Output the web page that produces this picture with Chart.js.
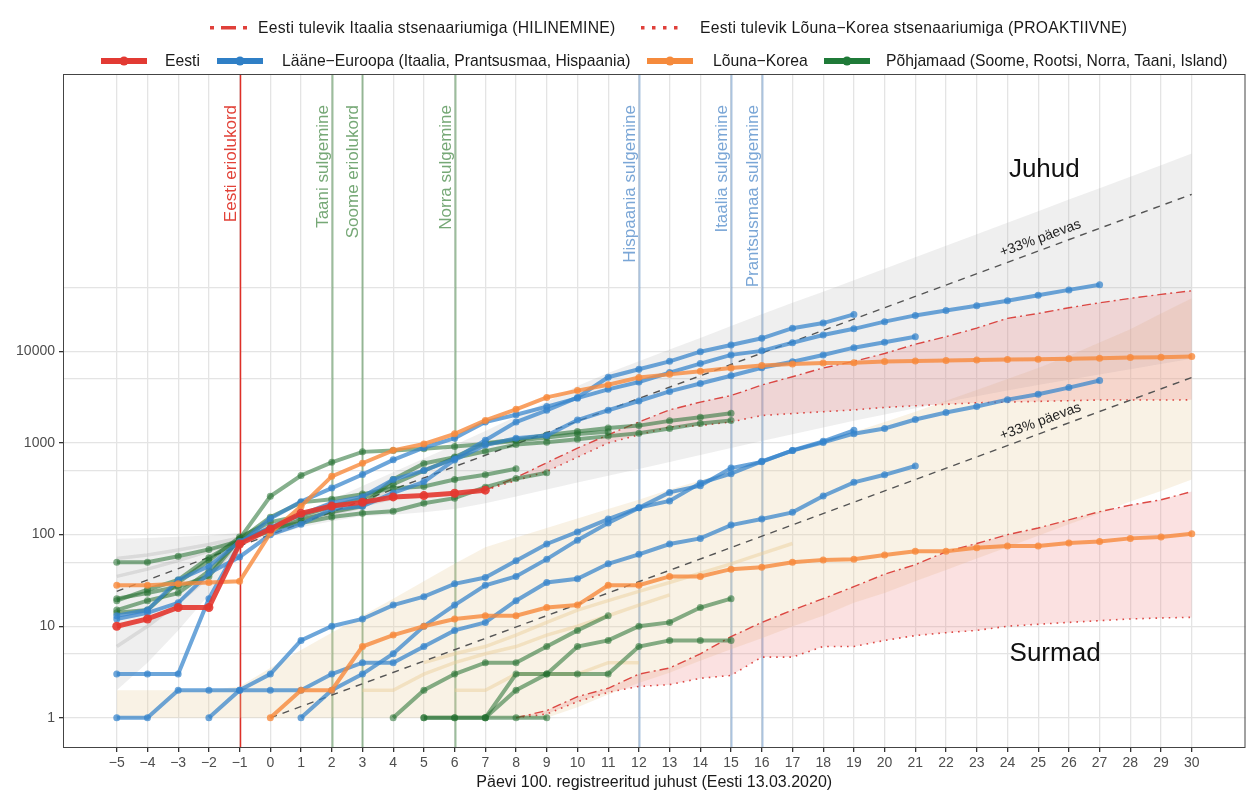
<!DOCTYPE html>
<html lang="et">
<head>
<meta charset="utf-8">
<title>Eesti tulevik</title>
<script src="https://cdn.jsdelivr.net/npm/chart.js@4.4.1/dist/chart.umd.min.js"></script>
<style>
  html, body { margin: 0; padding: 0; background: #fff; overflow: hidden; }
  #wrap { position: relative; width: 1246px; height: 797px; overflow: hidden; font-family: "Liberation Sans", Arial, Helvetica, sans-serif; }
  #chart { position: absolute; left: 0; top: 0; }
  .lg { position: absolute; font-size: 15.7px; color: #1a1a1a; white-space: nowrap; line-height: 18px; }
  .key { position: absolute; }
</style>
</head>
<body>
<div id="wrap">
  <canvas id="chart" width="1250" height="797"></canvas>

  <!-- legend row 1 -->
  <svg class="key" style="left:210px;top:24px" width="38" height="8">
    <rect x="0" y="2" width="4" height="3.5" fill="#e0403a"/>
    <rect x="11" y="2" width="15" height="3.5" fill="#e0403a"/>
    <rect x="33" y="2" width="4" height="3.5" fill="#e0403a"/>
  </svg>
  <div class="lg" style="left:258px;top:19px;letter-spacing:0.25px">Eesti tulevik Itaalia stsenaariumiga (HILINEMINE)</div>
  <svg class="key" style="left:641px;top:24px" width="40" height="8">
    <rect x="0" y="2" width="3.5" height="3.5" fill="#e0403a"/>
    <rect x="11" y="2" width="3.5" height="3.5" fill="#e0403a"/>
    <rect x="22" y="2" width="3.5" height="3.5" fill="#e0403a"/>
    <rect x="33" y="2" width="3.5" height="3.5" fill="#e0403a"/>
  </svg>
  <div class="lg" style="left:700px;top:19px;letter-spacing:0.25px">Eesti tulevik Lõuna−Korea stsenaariumiga (PROAKTIIVNE)</div>

  <!-- legend row 2 -->
  <svg class="key" style="left:101px;top:55px" width="46" height="12">
    <rect x="0" y="3" width="46" height="6" fill="#e23a33"/><circle cx="23" cy="6" r="4.5" fill="#e23a33"/>
  </svg>
  <div class="lg" style="left:165px;top:52px">Eesti</div>
  <svg class="key" style="left:217px;top:55px" width="46" height="12">
    <rect x="0" y="3" width="46" height="6" fill="#2f7fc6"/><circle cx="23" cy="6" r="4.5" fill="#2f7fc6"/>
  </svg>
  <div class="lg" style="left:282px;top:52px">Lääne−Euroopa (Itaalia, Prantsusmaa, Hispaania)</div>
  <svg class="key" style="left:647px;top:55px" width="46" height="12">
    <rect x="0" y="3" width="46" height="6" fill="#f58a3c"/><circle cx="23" cy="6" r="4.5" fill="#f58a3c"/>
  </svg>
  <div class="lg" style="left:713px;top:52px">Lõuna−Korea</div>
  <svg class="key" style="left:824px;top:55px" width="46" height="12">
    <rect x="0" y="3" width="46" height="6" fill="#1f7a38"/><circle cx="23" cy="6" r="4.5" fill="#1f7a38"/>
  </svg>
  <div class="lg" style="left:886px;top:52px">Põhjamaad (Soome, Rootsi, Norra, Taani, Island)</div>
</div>

<script>
// ---- x axis / y axis ----
const tickDays = [-5, -4, -3, -2, -1, 0, 1, 2, 3, 4, 5, 6, 7, 8, 9, 10, 11, 12, 13, 14, 15, 16, 17, 18, 19, 20, 21, 22, 23, 24, 25, 26, 27, 28, 29, 30]
const yGridValues = [1, 5, 10, 50, 100, 500, 1000, 5000, 10000, 50000]
const yLabelValues = [1, 10, 100, 1000, 10000]

// ---- juhud (cases), first value is at the start day ----
const eestiStart = -5
const eestiJuhud = [10, 12, 16, 16, 79, 115, 171, 205, 225, 258, 267, 283, 306]

const itaaliaStart = -5
const itaaliaJuhud = [3, 3, 3, 20, 79, 150, 229, 322, 453, 655, 888, 1128, 1694, 2036, 2502, 3089, 3858, 4636, 5883, 7375, 9172, 10149, 12462, 15113, 17660, 21157, 24747, 27980, 31506, 35713, 41035, 47021, 53578]
const hispaaniaStart = -5
const hispaaniaJuhud = [13, 15, 32, 45, 84, 120, 165, 222, 259, 400, 500, 673, 1073, 1695, 2277, 3146, 5232, 6391, 7798, 9942, 11748, 13910, 17963, 20410, 25374]
const prantsusmaaStart = -5
const prantsusmaaJuhud = [12, 14, 18, 38, 57, 100, 130, 191, 204, 285, 377, 653, 949, 1126, 1209, 1784, 2281, 2876, 3661, 4469, 5423, 6633, 7730, 9134, 10995, 12612, 14459]

const koreaStart = -5
const koreaJuhud = [28, 28, 29, 30, 31, 104, 204, 433, 602, 833, 977, 1261, 1766, 2337, 3150, 3736, 4335, 5186, 5621, 6088, 6593, 7041, 7313, 7478, 7513, 7755, 7869, 7979, 8086, 8162, 8236, 8320, 8413, 8565, 8652, 8799]

const norraJuhud = [19, 25, 32, 56, 87, 108, 147, 176, 205, 400, 598, 702, 996, 1090, 1221, 1333, 1463, 1550, 1746, 1914, 2118]
const rootsiJuhud = [14, 15, 30, 52, 94, 137, 161, 203, 248, 355, 500, 687, 814, 961, 1022, 1103, 1190, 1279, 1439, 1639, 1763]
const taaniJuhud = [20, 23, 27, 35, 90, 262, 442, 615, 801, 827, 864, 914, 977, 1057, 1151, 1255, 1326]
const soomeJuhud = [15, 19, 23, 40, 88, 155, 225, 244, 277, 321, 336, 400, 450, 523]
const islandJuhud = [50, 50, 58, 69, 85, 117, 134, 156, 171, 180, 220, 250, 330, 409, 473]
const pohjamaadStart = -5

// ---- surmad (deaths) ----
const itaaliaSurmadStart = -2
const itaaliaSurmad = [1, 2, 3, 7, 10, 12, 17, 21, 29, 34, 52, 79, 107, 148, 197, 233, 366, 463, 631, 827, 1016, 1266, 1441, 1809, 2158, 2503, 2978, 3405, 4032, 4825]
const hispaaniaSurmadStart = 1
const hispaaniaSurmad = [1, 2, 3, 5, 10, 17, 28, 35, 54, 87, 134, 196, 289, 342, 533, 623, 830, 1043, 1375]
const prantsusmaaSurmadStart = -5
const prantsusmaaSurmad = [1, 1, 2, 2, 2, 2, 2, 3, 4, 4, 6, 9, 11, 19, 30, 33, 48, 61, 79, 91, 127, 148, 175, 264, 372, 450, 562]
const koreaSurmadStart = 0
const koreaSurmad = [1, 2, 2, 6, 8, 10, 12, 13, 13, 16, 17, 28, 28, 35, 35, 42, 44, 50, 53, 54, 60, 66, 66, 72, 75, 75, 81, 84, 91, 94, 102]
const taaniSurmadStart = 4
const taaniSurmad = [1, 2, 3, 4, 4, 6, 9, 13]
const norraSurmadStart = 5
const norraSurmad = [1, 1, 1, 3, 3, 3, 3, 6, 7, 7, 7]
const rootsiSurmadStart = 5
const rootsiSurmad = [1, 1, 1, 2, 3, 6, 7, 10, 11, 16, 20]
const islandSurmadStart = 7
const islandSurmad = [1, 1, 1]

// ---- Eesti scenarios ----
const juhudStsenaariumStart = 7
const itaaliaStsenaariumJuhud = [306, 420, 610, 880, 1230, 1700, 2300, 2800, 3300, 4300, 5300, 6600, 7800, 9500, 12000, 14500, 18000, 23000, 26000, 30000, 34000, 38000, 42000, 46000]
const koreaStsenaariumJuhud = [306, 390, 490, 700, 1000, 1230, 1500, 1550, 1700, 2000, 2100, 2200, 2300, 2450, 2550, 2650, 2750, 2800, 2850, 2900, 2950, 2950, 2950, 2960]
const surmadStsenaariumStart = 8
const itaaliaStsenaariumSurmad = [1, 1.2, 1.7, 2.1, 3, 3.5, 5, 7.7, 11, 15, 20, 27, 37, 47, 65, 80, 100, 118, 145, 178, 210, 240, 295]
const koreaStsenaariumSurmad = [1, 1.1, 1.5, 1.9, 2.2, 2.3, 2.7, 2.9, 4.6, 4.6, 6, 6, 7, 7.9, 8.5, 9, 10, 10.5, 11, 11.5, 12, 12.3, 12.5]

// ---- +33% reference lines ----
const juhudTrendDays = [-5, 30]
const juhudTrend = [24, 520000]
const surmadTrendDays = [0, 30]
const surmadTrend = [1, 5200]

// ---- background bands (start at day -5) ----
const ribbonStart = -5
const juhudBandLow = [2, 4, 9, 22, 75, 95, 120, 140, 160, 165, 175, 190, 220, 260, 310, 370, 440, 520, 620, 740, 880, 1050, 1250, 1480, 1750, 2050, 2400, 2800, 3250, 3750, 4300, 4900, 5600, 6400, 7300, 8300]
const juhudBandHigh = [90, 92, 95, 98, 105, 125, 170, 240, 340, 480, 680, 950, 1350, 1950, 2800, 4200, 5800, 7800, 10500, 14000, 19000, 25500, 34000, 45000, 60000, 80000, 107000, 143000, 190000, 255000, 340000, 455000, 605000, 810000, 1080000, 1450000]
const surmadBandLow = [1, 1, 1, 1, 1, 1, 1, 1, 1, 1, 1, 1, 1, 1, 1, 1.3, 1.8, 2.4, 3.1, 4.2, 5.6, 7.4, 9.9, 13, 18, 23, 31, 41, 55, 73, 97, 130, 170, 230, 300, 400]
const surmadBandHigh = [2, 2, 2, 2, 2.2, 3.5, 5.5, 8.5, 13, 20, 31, 48, 73, 93, 118, 150, 190, 240, 310, 390, 500, 640, 810, 1030, 1320, 1700, 2200, 2900, 3800, 5000, 6600, 9000, 12500, 17500, 26000, 38000]

// faint background country lines
const faintJuhud = [
  { start: -5, values: [55, 60, 68, 78, 92, 120, 150, 190, 240, 300] },
  { start: -5, values: [35, 42, 52, 66, 88, 118, 145, 175, 210, 250] },
  { start: -5, values: [6, 10, 18, 35, 80, 112, 140, 170, 200] }
]
const faintSurmad = [
  { start: 5, values: [4, 5, 6, 8, 11, 15, 19, 24, 30, 38, 48, 62, 80] },
  { start: 3, values: [2, 2, 3, 4, 5, 6, 8, 10, 13, 17, 22] },
  { start: 6, values: [2, 2, 3, 3, 3, 4, 4] }
]

// ---- events ----
const eventDays = [-1, 2, 3, 6, 12, 15, 16]
const eventLabels = ["Eesti eriolukord", "Taani sulgemine", "Soome eriolukord", "Norra sulgemine", "Hispaania sulgemine", "Itaalia sulgemine", "Prantsusmaa sulgemine"]
const eventKinds = ["ee", "nordic", "nordic", "nordic", "west", "west", "west"]

const COLORS = {
  red: "rgba(228,55,48,0.9)",
  blue: "rgba(52,132,204,0.72)",
  orange: "rgba(247,138,60,0.8)",
  green: "rgba(34,112,48,0.55)"
}
const eventLine = { ee: "rgb(222,48,40)", nordic: "rgba(95,150,95,0.6)", west: "rgba(120,160,205,0.6)" }
const eventText = { ee: "rgb(226,66,56)", nordic: "rgb(118,168,118)", west: "rgb(122,166,214)" }

Chart.defaults.font.family = '"Liberation Sans", Arial, Helvetica, sans-serif'

function series(start, values) {
  return values.map((v, i) => ({ x: start + i, y: v }))
}
function pairs(xs, ys) {
  return xs.map((x, i) => ({ x: x, y: ys[i] }))
}

const datasets = []
function add(d) {
  datasets.push(Object.assign({ tension: 0, pointRadius: 0, borderWidth: 0, fill: false }, d))
  return datasets.length - 1
}
function countryLine(data, color, order, width, radius) {
  add({
    data: data, borderColor: color, backgroundColor: color, pointBackgroundColor: color,
    borderWidth: width || 4, pointRadius: radius || 3.5, pointBorderWidth: 0, order: order
  })
}

// bands
let lo = add({ data: series(ribbonStart, juhudBandLow), order: 40 })
add({ data: series(ribbonStart, juhudBandHigh), fill: { target: lo }, backgroundColor: "rgba(175,175,175,0.2)", order: 40 })
lo = add({ data: series(ribbonStart, surmadBandLow), order: 40 })
add({ data: series(ribbonStart, surmadBandHigh), fill: { target: lo }, backgroundColor: "rgba(232,205,150,0.25)", order: 40 })

// faint lines
faintJuhud.forEach(f => add({ data: series(f.start, f.values), borderColor: "rgba(185,185,185,0.4)", borderWidth: 3.5, order: 35 }))
faintSurmad.forEach(f => add({ data: series(f.start, f.values), borderColor: "rgba(236,205,150,0.45)", borderWidth: 3.5, order: 35 }))

// scenarios
lo = add({ data: series(juhudStsenaariumStart, koreaStsenaariumJuhud), borderColor: "rgba(215,45,40,0.85)", borderWidth: 1.6, borderDash: [1.6, 5], order: 30 })
add({ data: series(juhudStsenaariumStart, itaaliaStsenaariumJuhud), borderColor: "rgba(215,45,40,0.85)", borderWidth: 1.4, borderDash: [9, 4, 2, 4], fill: { target: lo }, backgroundColor: "rgba(238,120,120,0.22)", order: 30 })
lo = add({ data: series(surmadStsenaariumStart, koreaStsenaariumSurmad), borderColor: "rgba(215,45,40,0.85)", borderWidth: 1.6, borderDash: [1.6, 5], order: 30 })
add({ data: series(surmadStsenaariumStart, itaaliaStsenaariumSurmad), borderColor: "rgba(215,45,40,0.85)", borderWidth: 1.4, borderDash: [9, 4, 2, 4], fill: { target: lo }, backgroundColor: "rgba(238,120,120,0.22)", order: 30 })

// +33% lines
const trendCasesIdx = add({ data: pairs(juhudTrendDays, juhudTrend), borderColor: "#555", borderWidth: 1.4, borderDash: [7, 6], order: 25 })
const trendDeathsIdx = add({ data: pairs(surmadTrendDays, surmadTrend), borderColor: "#555", borderWidth: 1.4, borderDash: [7, 6], order: 25 })

// Nordic
countryLine(series(pohjamaadStart, norraJuhud), COLORS.green, 12)
countryLine(series(pohjamaadStart, rootsiJuhud), COLORS.green, 12)
countryLine(series(pohjamaadStart, taaniJuhud), COLORS.green, 12)
countryLine(series(pohjamaadStart, soomeJuhud), COLORS.green, 12)
countryLine(series(pohjamaadStart, islandJuhud), COLORS.green, 12)
countryLine(series(taaniSurmadStart, taaniSurmad), COLORS.green, 12)
countryLine(series(norraSurmadStart, norraSurmad), COLORS.green, 12)
countryLine(series(rootsiSurmadStart, rootsiSurmad), COLORS.green, 12)
countryLine(series(islandSurmadStart, islandSurmad), COLORS.green, 12)

// West Europe
countryLine(series(itaaliaStart, itaaliaJuhud), COLORS.blue, 10)
countryLine(series(hispaaniaStart, hispaaniaJuhud), COLORS.blue, 10)
countryLine(series(prantsusmaaStart, prantsusmaaJuhud), COLORS.blue, 10)
countryLine(series(itaaliaSurmadStart, itaaliaSurmad), COLORS.blue, 10)
countryLine(series(hispaaniaSurmadStart, hispaaniaSurmad), COLORS.blue, 10)
countryLine(series(prantsusmaaSurmadStart, prantsusmaaSurmad), COLORS.blue, 10)

// South Korea
countryLine(series(koreaStart, koreaJuhud), COLORS.orange, 8)
countryLine(series(koreaSurmadStart, koreaSurmad), COLORS.orange, 8)

// Estonia
countryLine(series(eestiStart, eestiJuhud), COLORS.red, 1, 5, 4.5)

const annotations = {
  id: "annotations",
  beforeDatasetsDraw(chart) {
    const { ctx, chartArea, scales } = chart
    ctx.save()
    eventDays.forEach((d, i) => {
      const x = Math.round(scales.x.getPixelForValue(d)) + 0.5
      ctx.strokeStyle = eventLine[eventKinds[i]]
      ctx.lineWidth = eventKinds[i] === "ee" ? 1.5 : 2
      ctx.beginPath()
      ctx.moveTo(x, chartArea.top)
      ctx.lineTo(x, chartArea.bottom)
      ctx.stroke()
      ctx.save()
      ctx.translate(x - 4.5, chartArea.top + 31)
      ctx.rotate(-Math.PI / 2)
      ctx.fillStyle = eventText[eventKinds[i]]
      ctx.font = '17px "Liberation Sans", Arial, sans-serif'
      ctx.textAlign = "right"
      ctx.textBaseline = "alphabetic"
      ctx.fillText(eventLabels[i], 0, 0)
      ctx.restore()
    })
    ctx.restore()
  },
  afterDatasetsDraw(chart) {
    const { ctx, chartArea, scales } = chart
    ctx.save()
    // +33% labels along the dashed lines
    ;[trendCasesIdx, trendDeathsIdx].forEach(idx => {
      const pts = chart.getDatasetMeta(idx).data
      const p1 = pts[0], p2 = pts[1]
      const ang = Math.atan2(p2.y - p1.y, p2.x - p1.x)
      const px = scales.x.getPixelForValue(25.2)
      const t = (px - p1.x) / (p2.x - p1.x)
      const py = p1.y + t * (p2.y - p1.y)
      ctx.save()
      ctx.translate(px, py)
      ctx.rotate(ang)
      ctx.fillStyle = "#222"
      ctx.font = '14px "Liberation Sans", Arial, sans-serif'
      ctx.textAlign = "center"
      ctx.textBaseline = "middle"
      ctx.fillText("+33% päevas", 0, -11)
      ctx.restore()
    })
    ctx.fillStyle = "#111"
    ctx.font = '26px "Liberation Sans", Arial, sans-serif'
    ctx.textAlign = "center"
    ctx.textBaseline = "middle"
    ctx.fillText("Juhud", scales.x.getPixelForValue(25.2), scales.y.getPixelForValue(950000))
    ctx.fillText("Surmad", scales.x.getPixelForValue(25.55), scales.y.getPixelForValue(5))
    // panel border
    ctx.strokeStyle = "#444"
    ctx.lineWidth = 1
    ctx.strokeRect(chartArea.left + 0.5, chartArea.top + 0.5, chartArea.right - chartArea.left - 1, chartArea.bottom - chartArea.top - 1)
    ctx.restore()
  }
}

new Chart(document.getElementById("chart"), {
  type: "line",
  data: { datasets: datasets },
  options: {
    responsive: false,
    devicePixelRatio: 1,
    animation: false,
    events: [],
    layout: { padding: { top: 74, right: 1, left: 0, bottom: 0 } },
    plugins: {
      legend: { display: false },
      tooltip: { enabled: false },
      filler: { propagate: false }
    },
    scales: {
      x: {
        type: "linear",
        min: -6.75,
        max: 31.75,
        afterBuildTicks: (scale) => { scale.ticks = tickDays.map(v => ({ value: v })) },
        afterFit: (scale) => { scale.height = 49 },
        border: { display: false },
        grid: { color: "#e4e4e4", lineWidth: 1.3, tickColor: "#333", tickLength: 4 },
        ticks: {
          autoSkip: false, maxRotation: 0, padding: 3, color: "#4d4d4d", font: { size: 14 },
          callback: (v) => v < 0 ? "−" + Math.abs(v) : String(v)
        },
        title: {
          display: true, text: "Päevi 100. registreeritud juhust (Eesti 13.03.2020)",
          color: "#1a1a1a", font: { size: 16 }, padding: { top: 2, bottom: 5 }
        }
      },
      y: {
        type: "logarithmic",
        min: 0.468,
        max: 10700000,
        afterBuildTicks: (scale) => { scale.ticks = yGridValues.map(v => ({ value: v })) },
        afterFit: (scale) => { scale.width = 63 },
        border: { display: false },
        grid: {
          color: "#e4e4e4", lineWidth: 1.3, tickLength: 4,
          tickColor: (c) => (c.tick && yLabelValues.includes(c.tick.value)) ? "#333" : "rgba(0,0,0,0)"
        },
        ticks: {
          autoSkip: false, padding: 4, color: "#4d4d4d", font: { size: 14 },
          callback: (v) => yLabelValues.includes(v) ? String(v) : ""
        }
      }
    }
  },
  plugins: [annotations]
})
</script>
</body>
</html>
